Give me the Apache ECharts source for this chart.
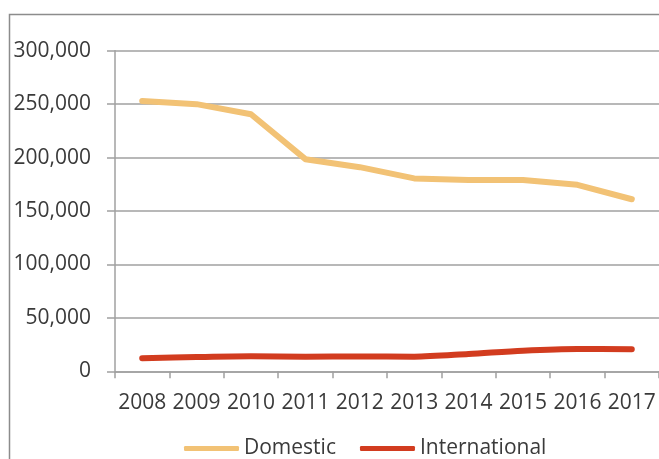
<!DOCTYPE html>
<html>
<head>
<meta charset="utf-8">
<script src="https://cdn.jsdelivr.net/npm/echarts@6/dist/echarts.min.js"></script>
<style>
  html, body { margin: 0; padding: 0; background: #fff; }
  #chart { width: 659px; height: 459px; }
</style>
</head>
<body>
<div id="chart"></div>
<script>
// data
const years = ['2008', '2009', '2010', '2011', '2012', '2013', '2014', '2015', '2016', '2017'];
const domestic = [253000, 250000, 240500, 198500, 191000, 180500, 179000, 179000, 174500, 161000];
const international = [12200, 13300, 14000, 13700, 13900, 13700, 16200, 19300, 20900, 20700];
const yTicks = [0, 50000, 100000, 150000, 200000, 250000, 300000];

const chart = echarts.init(document.getElementById('chart'));
const textColor = '#3a3a3a';
const lineGrey = '#a0a0a0';

chart.setOption({
  animation: false,
  textStyle: { fontFamily: 'Open Sans', color: textColor },
  graphic: [{
    type: 'rect',
    shape: { x: 9.5, y: 14.5, width: 700, height: 500 },
    style: { fill: 'none', stroke: '#8c8c8c', lineWidth: 1.5 },
    silent: true
  }],
  grid: { left: 115, top: 50.7, right: 0, bottom: 87.7 },
  legend: {
    left: 179,
    top: 433,
    icon: 'roundRect',
    itemWidth: 55,
    itemHeight: 5,
    itemGap: 24,
    textStyle: { fontSize: 21, color: textColor, fontFamily: 'Open Sans' },
    data: ['Domestic', 'International']
  },
  xAxis: {
    type: 'category',
    data: years,
    boundaryGap: true,
    axisLine: { lineStyle: { color: lineGrey, width: 1.5 } },
    axisTick: { show: true, length: 7, lineStyle: { color: lineGrey, width: 1.5 } },
    axisLabel: {
      interval: 0,
      hideOverlap: false,
      fontSize: 21,
      color: textColor,
      margin: 21,
      fontFamily: 'Open Sans'
    },
    splitLine: { show: false }
  },
  yAxis: {
    type: 'value',
    min: yTicks[0],
    max: yTicks[yTicks.length - 1],
    interval: yTicks[1] - yTicks[0],
    axisLine: { show: true, lineStyle: { color: lineGrey, width: 1.5 } },
    axisTick: { show: true, length: 8, lineStyle: { color: lineGrey, width: 1.5 } },
    axisLabel: {
      fontSize: 21,
      color: textColor,
      margin: 24,
      fontFamily: 'Open Sans',
      formatter: v => v.toLocaleString('en-US')
    },
    splitLine: { show: true, lineStyle: { color: lineGrey, width: 1.5 } }
  },
  series: [
    {
      name: 'Domestic',
      type: 'line',
      data: domestic,
      symbol: 'none',
      itemStyle: { color: '#f2c275' },
      lineStyle: { color: '#f2c275', width: 6, cap: 'round', join: 'round' }
    },
    {
      name: 'International',
      type: 'line',
      data: international,
      symbol: 'none',
      smooth: 0.3,
      itemStyle: { color: '#d23c1f' },
      lineStyle: { color: '#d23c1f', width: 6, cap: 'round', join: 'round' }
    }
  ]
});
</script>
</body>
</html>
